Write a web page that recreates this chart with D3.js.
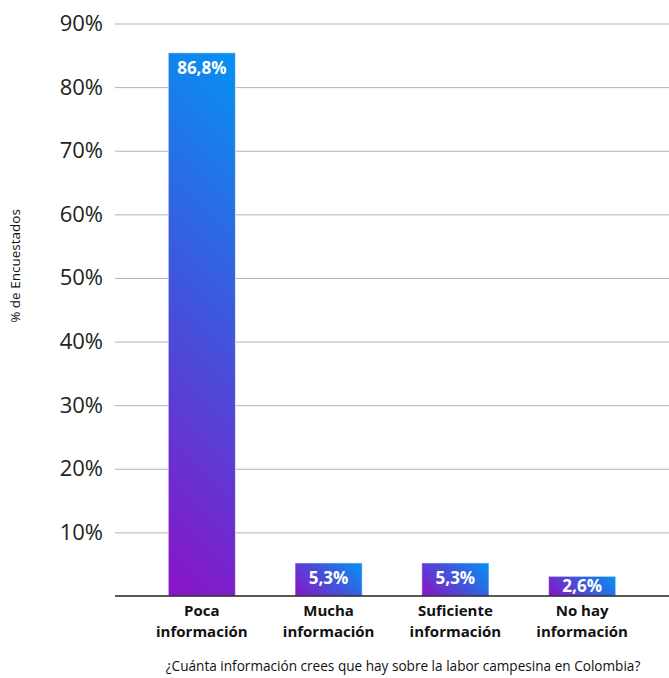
<!DOCTYPE html>
<html>
<head>
<meta charset="utf-8">
<script src="https://cdn.jsdelivr.net/npm/d3@7"></script>
<style>
  body { margin: 0; background: #fff; }
  text { font-family: "Open Sans", "Noto Sans", sans-serif; }
</style>
</head>
<body>
<div id="chart"></div>
<script>
// data
const categories = ["Poca|información", "Mucha|información", "Suficiente|información", "No hay|información"];
const values = [85.4, 5.2, 5.2, 3.1];          // bar heights as drawn
const valueLabels = ["86,8%", "5,3%", "5,3%", "2,6%"];
const yTicks = [10, 20, 30, 40, 50, 60, 70, 80, 90];

const W = 669, H = 678;
const margin = {top: 23, right: 0, bottom: 82, left: 115};

const svg = d3.select("#chart").append("svg")
  .attr("width", W)
  .attr("height", H);

const x = d3.scaleBand()
  .domain(categories)
  .range([margin.left, W - margin.right])
  .paddingInner(0.47)
  .paddingOuter(0.42);

const y = d3.scaleLinear()
  .domain([0, 90])
  .range([H - margin.bottom, margin.top + 0.5]);

// one 45deg gradient per bar, in user space so the angle stays fixed
const defs = svg.append("defs");
categories.forEach((c, i) => {
  const bx = x(c), bw = x.bandwidth();
  const by = y(values[i]), bh = y(0) - y(values[i]);
  const g = defs.append("linearGradient")
    .attr("id", "grad" + i)
    .attr("gradientUnits", "userSpaceOnUse")
    .attr("x1", bx).attr("y1", by + bh)
    .attr("x2", bx + (bw + bh) / 2).attr("y2", by + bh - (bw + bh) / 2);
  g.append("stop").attr("offset", "0%").attr("stop-color", "#8c12c8");
  g.append("stop").attr("offset", "50%").attr("stop-color", "#4352da");
  g.append("stop").attr("offset", "100%").attr("stop-color", "#0592f2");
});

// gridlines + tick labels
const yAxis = svg.append("g")
  .attr("transform", `translate(${margin.left},0)`)
  .call(d3.axisLeft(y).tickValues(yTicks).tickFormat(d => d + "%")
    .tickSize(-(W - margin.left - margin.right)).tickPadding(12));
yAxis.select(".domain").remove();
yAxis.selectAll(".tick line").attr("stroke", "#b3b3b3");
yAxis.selectAll(".tick text")
  .attr("fill", "#222")
  .style("font-size", "22px");

// bars
svg.selectAll("rect.bar")
  .data(categories)
  .join("rect")
    .attr("class", "bar")
    .attr("x", d => x(d))
    .attr("y", (d, i) => y(values[i]))
    .attr("width", x.bandwidth())
    .attr("height", (d, i) => y(0) - y(values[i]))
    .attr("fill", (d, i) => `url(#grad${i})`)
    .attr("stroke", "rgba(255,255,255,0.6)")
    .attr("stroke-width", 1);

// value labels
svg.selectAll("text.val")
  .data(categories)
  .join("text")
    .attr("class", "val")
    .attr("x", d => x(d) + x.bandwidth() / 2)
    .attr("y", (d, i) => {
      const h = y(0) - y(values[i]);
      return y(values[i]) + Math.min(21, h - 4);
    })
    .attr("text-anchor", "middle")
    .attr("fill", "#fff")
    .style("font-size", "17px")
    .style("font-weight", "bold")
    .text((d, i) => valueLabels[i]);

// baseline
svg.append("line")
  .attr("x1", margin.left).attr("x2", W)
  .attr("y1", y(0)).attr("y2", y(0))
  .attr("stroke", "#222").attr("stroke-width", 1.5);

// category labels
const cat = svg.selectAll("text.cat")
  .data(categories)
  .join("text")
    .attr("class", "cat")
    .attr("x", d => x(d) + x.bandwidth() / 2)
    .attr("y", y(0) + 20)
    .attr("text-anchor", "middle")
    .attr("fill", "#111")
    .style("font-size", "15px")
    .style("font-weight", "bold");
cat.selectAll("tspan")
  .data(d => d.split("|"))
  .join("tspan")
    .attr("x", function() { return d3.select(this.parentNode).attr("x"); })
    .attr("dy", (d, i) => i === 0 ? 0 : 21)
    .text(d => d);

// axis titles
svg.append("text")
  .attr("transform", `translate(20,266) rotate(-90)`)
  .attr("text-anchor", "middle")
  .attr("fill", "#111")
  .style("font-size", "13.5px")
  .text("% de Encuestados");

svg.append("text")
  .attr("x", 403)
  .attr("y", 671)
  .attr("text-anchor", "middle")
  .attr("fill", "#111")
  .style("font-size", "13.6px")
  .text("¿Cuánta información crees que hay sobre la labor campesina en Colombia?");
</script>
</body>
</html>
